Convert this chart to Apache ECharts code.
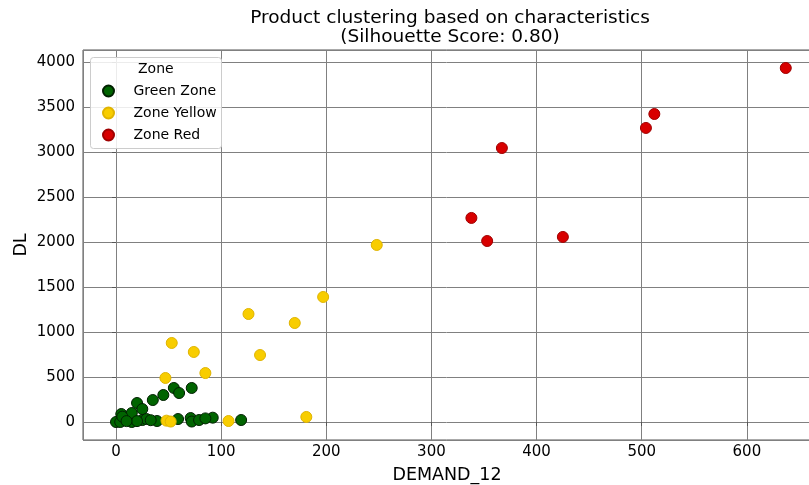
<!DOCTYPE html>
<html>
<head>
<meta charset="utf-8">
<script src="https://cdn.jsdelivr.net/npm/echarts@6/dist/echarts.min.js"></script>
<style>html,body{margin:0;padding:0;background:#fff;}#c{width:809px;height:485px;}</style>
</head>
<body>
<div id="c"></div>
<script>
var greenX = [0, 4, 5, 10, 15, 15, 20, 25, 25, 29, 35, 39, 45, 55, 60, 59, 71, 72, 72, 79, 92, 119, 33, 20, 6, 85, 10];
var greenY = [0, 0, 89, 40, 0, 100, 211, 144, 22, 33, 244, 11, 300, 378, 322, 33, 44, 378, 5, 22, 48, 22, 20, 10, 60, 40, 10];
var yellowX = [248, 197, 126, 170, 53, 74, 137, 85, 47, 181, 107, 48, 52];
var yellowY = [1967, 1389, 1200, 1100, 878, 778, 744, 544, 489, 56, 11, 15, 5];
var redX = [637, 512, 504, 367, 338, 353, 425];
var redY = [3933, 3422, 3267, 3044, 2267, 2011, 2056];
var seriesNames = ['Green Zone', 'Zone Yellow', 'Zone Red'];
var titleText = 'Product clustering based on characteristics\n(Silhouette Score: 0.80)';

function pairs(xs, ys) { return xs.map(function (x, i) { return [x, ys[i]]; }); }

var font = 'DejaVu Sans';
var chart = echarts.init(document.getElementById('c'), null, { renderer: 'canvas' });
chart.setOption({
  animation: false,
  backgroundColor: '#fff',
  textStyle: { fontFamily: font, color: '#000' },
  title: {
    text: titleText,
    left: 445, top: 4, textAlign: 'center',
    textStyle: { fontFamily: font, fontSize: 18.5, fontWeight: 'normal', color: '#000', lineHeight: 19 }
  },
  grid: { left: 83, top: 50, right: -2, bottom: 45, show: true, borderColor: '#555', borderWidth: 1,
    backgroundColor: 'transparent', containLabel: false, outerBoundsMode: 'none' },
  xAxis: {
    type: 'value', min: -31.4, max: 661, splitNumber: 7,
    name: 'DEMAND_12', nameLocation: 'middle', nameGap: 26,
    nameTextStyle: { fontFamily: font, fontSize: 17.5, color: '#000' },
    axisLine: { show: false },
    axisTick: { show: true, length: 4, lineStyle: { color: '#555' } },
    axisLabel: { fontFamily: font, fontSize: 15, color: '#000', margin: 5, showMinLabel: false, showMaxLabel: false,
      formatter: function (v) { return String(v); } },
    splitLine: { show: true, lineStyle: { color: '#808080', width: 1 } }
  },
  yAxis: {
    type: 'value', min: -200, max: 4133, splitNumber: 8,
    name: 'DL', nameLocation: 'middle', nameGap: 53, nameMoveOverlap: false,
    nameTextStyle: { fontFamily: font, fontSize: 17.5, color: '#000' },
    axisLine: { show: false },
    axisTick: { show: true, length: 4, lineStyle: { color: '#555' } },
    axisLabel: { fontFamily: font, fontSize: 15, color: '#000', margin: 8, showMinLabel: false, showMaxLabel: false,
      formatter: function (v) { return String(v); } },
    splitLine: { show: true, lineStyle: { color: '#808080', width: 1 } }
  },
  graphic: [
    { type: 'rect', left: 90, top: 57, shape: { width: 131, height: 91, r: 3 }, style: { fill: 'rgba(255,255,255,0.85)', stroke: '#cccccc', lineWidth: 1 }, z: 10 },
    { type: 'text', left: 138, top: 62, style: { text: 'Zone', font: '14px "DejaVu Sans"', fill: '#000' }, z: 11 }
  ],
  legend: {
    orient: 'vertical', left: 102, top: 84, padding: 0, itemGap: 8,
    itemWidth: 40, itemHeight: 11, icon: 'circle', z: 12,
    textStyle: { fontFamily: font, fontSize: 14, color: '#000' },
    data: seriesNames
  },
  series: [
    { name: seriesNames[0], type: 'scatter', symbolSize: 11, data: pairs(greenX, greenY),
      itemStyle: { color: '#006400', borderColor: '#002000', borderWidth: 1, opacity: 1 } },
    { name: seriesNames[1], type: 'scatter', symbolSize: 11, data: pairs(yellowX, yellowY),
      itemStyle: { color: '#f8cd00', borderColor: '#e0b400', borderWidth: 1, opacity: 1 } },
    { name: seriesNames[2], type: 'scatter', symbolSize: 11, data: pairs(redX, redY),
      itemStyle: { color: '#d80000', borderColor: '#a00000', borderWidth: 1, opacity: 1 } }
  ]
});
</script>
</body>
</html>
